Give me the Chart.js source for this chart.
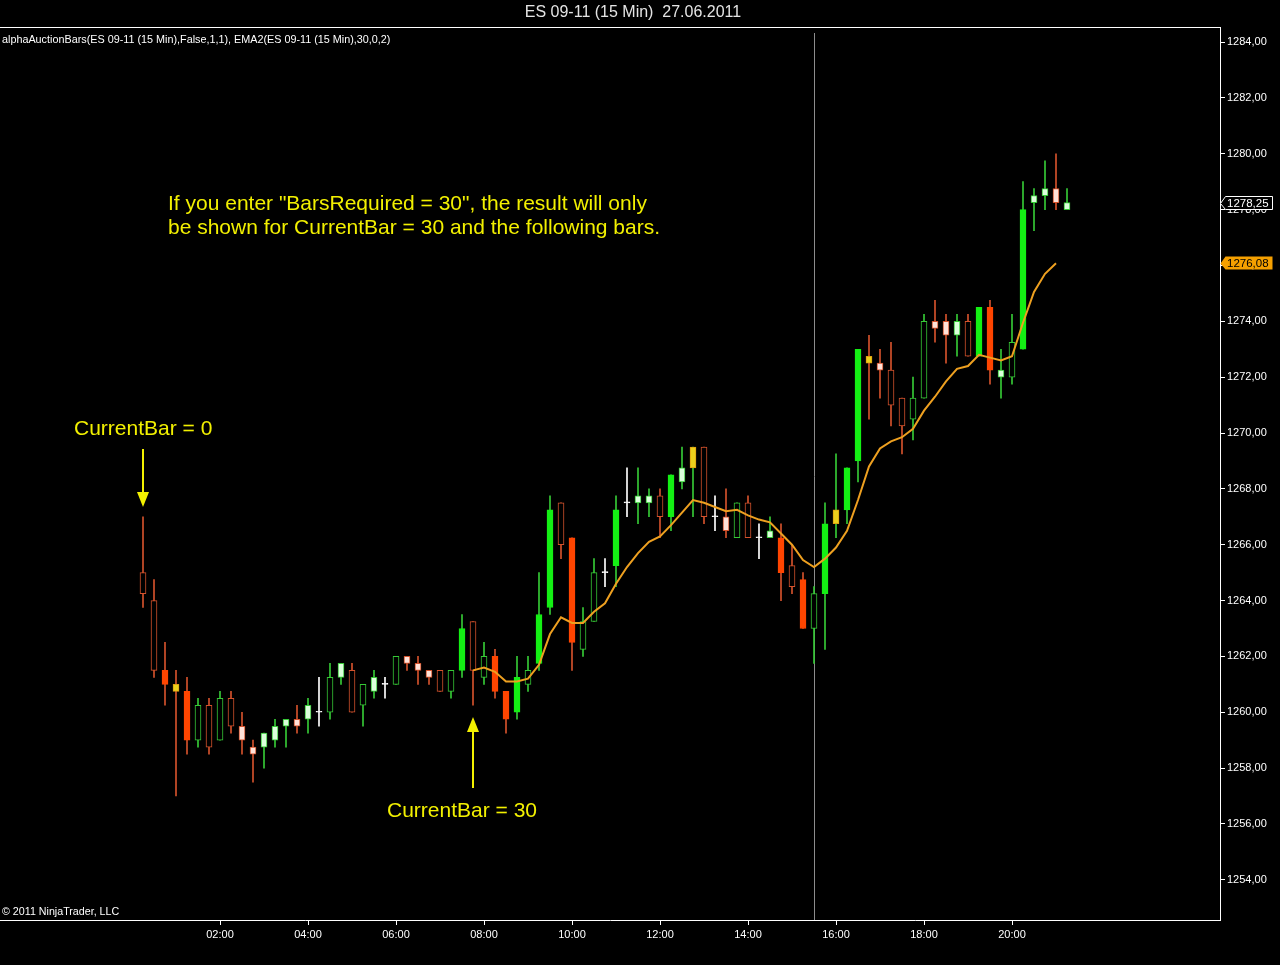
<!DOCTYPE html>
<html>
<head>
<meta charset="utf-8">
<title>ES 09-11 (15 Min)</title>
<script src="https://cdn.jsdelivr.net/npm/chart.js@4.4.1/dist/chart.umd.min.js"></script>
<style>
    html, body { margin: 0; padding: 0; background: #000; }
    #wrap { width: 1280px; height: 965px; }
</style>
</head>
<body>
<div id="wrap"><canvas id="chart" width="1280" height="965"></canvas></div>
<script>
// --- data ---
const chartTitle = 'ES 09-11 (15 Min)  27.06.2011';
const indicatorLabel = 'alphaAuctionBars(ES 09-11 (15 Min),False,1,1), EMA2(ES 09-11 (15 Min),30,0,2)';
const copyright = '\u00A9 2011 NinjaTrader, LLC';
const firstBarTime = '00:15';
const sessionBreak = '15:30';
const tickLabels = ['02:00', '04:00', '06:00', '08:00', '10:00', '12:00', '14:00', '16:00', '18:00', '20:00'];
const priceTicks = [1254, 1256, 1258, 1260, 1262, 1264, 1266, 1268, 1270, 1272, 1274, 1276, 1278, 1280, 1282, 1284];

const opens = [
    1265.0, 1264.0, 1261.5, 1261.0, 1260.75, 1259.0, 1260.25, 1259.0, 1260.5, 1259.5,
    1258.75, 1258.75, 1259.0, 1259.5, 1259.75, 1259.75, 1260.0, 1260.0, 1261.25, 1261.5,
    1260.25, 1260.75, 1261.0, 1261.0, 1262.0, 1261.75, 1261.5, 1261.5, 1260.75, 1261.5,
    1263.25, 1261.25, 1262.0, 1260.75, 1260.0, 1261.0, 1261.75, 1263.75, 1267.5, 1266.25,
    1262.25, 1263.25, 1265.0, 1265.25, 1267.5, 1267.5, 1267.5, 1267.75, 1267.0, 1268.25,
    1268.75, 1269.5, 1267.0, 1267.0, 1266.25, 1267.5, 1266.25, 1266.25, 1266.25, 1265.25,
    1264.75, 1263.0, 1264.25, 1266.75, 1267.25, 1269.0, 1272.75, 1272.5, 1272.25, 1271.25,
    1270.5, 1271.25, 1274.0, 1274.0, 1273.5, 1274.0, 1272.75, 1274.5, 1272.0, 1272.0,
    1273.0, 1278.25, 1278.5, 1278.75, 1278.0
];
const highs = [
    1267.0, 1264.75, 1262.5, 1261.5, 1261.25, 1260.5, 1260.5, 1260.75, 1260.75, 1260.0,
    1259.0, 1259.25, 1259.75, 1259.75, 1260.25, 1260.5, 1261.25, 1261.75, 1261.75, 1261.75,
    1261.0, 1261.5, 1261.25, 1262.0, 1262.0, 1262.0, 1261.5, 1261.5, 1261.5, 1263.5,
    1263.25, 1262.5, 1262.25, 1260.75, 1262.0, 1262.0, 1265.0, 1267.75, 1267.5, 1266.25,
    1263.75, 1265.5, 1265.5, 1267.75, 1268.75, 1268.75, 1268.0, 1268.0, 1268.5, 1269.5,
    1269.5, 1269.5, 1267.75, 1268.0, 1267.5, 1267.75, 1266.75, 1267.0, 1266.75, 1266.0,
    1265.0, 1264.5, 1267.5, 1269.25, 1268.75, 1273.0, 1273.5, 1273.0, 1273.25, 1271.25,
    1272.0, 1274.25, 1274.75, 1274.25, 1274.25, 1274.25, 1274.5, 1274.75, 1273.0, 1274.25,
    1279.0, 1278.75, 1279.75, 1280.0, 1278.75
];
const lows = [
    1263.75, 1261.25, 1260.25, 1257.0, 1258.5, 1258.75, 1258.5, 1259.0, 1259.25, 1258.5,
    1257.5, 1258.0, 1258.75, 1258.75, 1259.25, 1259.25, 1259.5, 1259.75, 1261.0, 1260.0,
    1259.5, 1260.5, 1260.5, 1261.0, 1261.5, 1261.0, 1261.0, 1260.75, 1260.5, 1261.25,
    1260.25, 1261.0, 1260.5, 1259.25, 1259.75, 1260.75, 1261.5, 1263.5, 1265.5, 1261.5,
    1262.0, 1263.25, 1264.5, 1264.5, 1267.0, 1266.75, 1267.0, 1266.25, 1266.5, 1268.0,
    1267.0, 1266.75, 1266.5, 1266.25, 1266.25, 1266.25, 1265.5, 1266.25, 1264.0, 1264.25,
    1263.0, 1261.75, 1262.25, 1266.25, 1266.75, 1268.25, 1270.5, 1271.25, 1270.25, 1269.25,
    1269.75, 1271.25, 1273.25, 1272.5, 1272.75, 1272.75, 1272.75, 1271.75, 1271.25, 1271.75,
    1273.0, 1277.25, 1278.0, 1278.0, 1278.0
];
const closes = [
    1264.25, 1261.5, 1261.0, 1260.75, 1259.0, 1260.25, 1258.75, 1260.5, 1259.5, 1259.0,
    1258.5, 1259.25, 1259.5, 1259.75, 1259.5, 1260.25, 1260.0, 1261.25, 1261.75, 1260.0,
    1261.0, 1261.25, 1261.0, 1262.0, 1261.75, 1261.5, 1261.25, 1260.75, 1261.5, 1263.0,
    1261.5, 1262.0, 1260.75, 1259.75, 1261.25, 1261.5, 1263.5, 1267.25, 1266.0, 1262.5,
    1263.25, 1265.0, 1265.0, 1267.25, 1267.5, 1267.75, 1267.75, 1267.0, 1268.5, 1268.75,
    1269.5, 1267.0, 1267.0, 1266.5, 1267.5, 1266.25, 1266.25, 1266.5, 1265.0, 1264.5,
    1263.0, 1264.25, 1266.75, 1267.25, 1268.75, 1273.0, 1272.5, 1272.25, 1271.0, 1270.25,
    1271.25, 1274.0, 1273.75, 1273.5, 1274.0, 1272.75, 1274.5, 1272.25, 1272.25, 1273.25,
    1278.0, 1278.5, 1278.75, 1278.25, 1278.25
];
// body look per bar: h = hollow, f = filled, p = pale, y = gold, x = doji
const bodyKinds = [
    'h', 'h', 'f', 'y', 'f', 'h', 'h', 'h', 'h', 'p',
    'p', 'p', 'p', 'p', 'p', 'p', 'x', 'h', 'p', 'h',
    'h', 'p', 'x', 'h', 'p', 'p', 'p', 'h', 'h', 'f',
    'h', 'h', 'f', 'f', 'f', 'h', 'f', 'f', 'h', 'f',
    'h', 'h', 'x', 'f', 'x', 'p', 'p', 'h', 'f', 'p',
    'y', 'h', 'x', 'p', 'h', 'h', 'x', 'p', 'f', 'h',
    'f', 'h', 'f', 'y', 'f', 'f', 'y', 'p', 'h', 'h',
    'h', 'h', 'p', 'p', 'p', 'h', 'f', 'f', 'p', 'h',
    'f', 'p', 'p', 'p', 'p'
];

// EMA2(30) starts at CurrentBar = 30
const emaStart = 30;
const emaValues = [
    1261.5, 1261.6, 1261.45, 1261.1, 1261.1, 1261.2, 1261.7, 1262.8, 1263.4, 1263.2,
    1263.2, 1263.6, 1263.9, 1264.6, 1265.2, 1265.7, 1266.1, 1266.3, 1266.7, 1267.15,
    1267.6, 1267.5, 1267.35, 1267.2, 1267.25, 1267.05, 1266.9, 1266.8, 1266.4, 1266.0,
    1265.45, 1265.2, 1265.5, 1265.9, 1266.5, 1267.6, 1268.8, 1269.45, 1269.7, 1269.85,
    1270.15, 1270.8, 1271.3, 1271.85, 1272.3, 1272.4, 1272.8, 1272.7, 1272.6, 1272.75,
    1273.95, 1275.05, 1275.7, 1276.08
];

const noteLines = [
    'If you enter "BarsRequired = 30", the result will only',
    'be shown for CurrentBar = 30 and the following bars.'
];
const noteBar0 = 'CurrentBar = 0';
const noteBar30 = 'CurrentBar = 30';

// --- colours ---
const FONT = '"Liberation Sans", Arial, sans-serif';
const upEdge = '#36c936';
const downEdge = '#d4522c';
const upFill = '#14f014';
const downFill = '#ff4500';
const upPale = '#dcffdc';
const downPale = '#ffe2d8';
const goldFill = '#ecd01c';
const goldEdge = '#e0a010';
const noteColor = '#f2f000';
const emaColor = '#eea020';

function toIndex(t) {
    const [h, m] = t.split(':').map(Number);
    const [h0, m0] = firstBarTime.split(':').map(Number);
    return ((h * 60 + m) - (h0 * 60 + m0)) / 15;
}
function indexToTime(i) {
    const [h0, m0] = firstBarTime.split(':').map(Number);
    const t = h0 * 60 + m0 + i * 15;
    return String(Math.floor(t / 60)).padStart(2, '0') + ':' + String(t % 60).padStart(2, '0');
}
const fmtPrice = v => v.toFixed(2).replace('.', ',');

const idx = opens.map((_, i) => i);
const isUp = i => closes[i] >= opens[i];

const wickColors = idx.map(i => bodyKinds[i] === 'x' ? '#ffffff' : (isUp(i) ? upEdge : downEdge));
const bodyFill = idx.map(i => {
    const k = bodyKinds[i];
    if (k === 'x') return '#ffffff';
    if (k === 'y') return goldFill;
    if (k === 'f') return isUp(i) ? upFill : downFill;
    if (k === 'p') return isUp(i) ? upPale : downPale;
    return '#000000';
});
const bodyEdge = idx.map(i => {
    const k = bodyKinds[i];
    if (k === 'x') return '#ffffff';
    if (k === 'y') return goldEdge;
    if (k === 'f') return isUp(i) ? upFill : downFill;
    return isUp(i) ? upEdge : downEdge;
});

// --- plugins ---
const backdrop = {
    id: 'backdrop',
    beforeDraw(chart) {
        const { ctx, width, height } = chart;
        ctx.save();
        ctx.fillStyle = '#000';
        ctx.fillRect(0, 0, width, height);
        ctx.restore();
    },
    beforeDatasetsDraw(chart) {
        const { ctx, chartArea, scales: { x } } = chart;
        ctx.save();
        // title and the frame line under it
        ctx.fillStyle = '#e4e4e4';
        ctx.font = '16px ' + FONT;
        ctx.textAlign = 'center';
        ctx.textBaseline = 'middle';
        ctx.fillText(chartTitle, 633, 13);
        ctx.strokeStyle = '#ffffff';
        ctx.lineWidth = 1;
        ctx.beginPath();
        ctx.moveTo(0, Math.round(chartArea.top) + 0.5);
        ctx.lineTo(chartArea.right, Math.round(chartArea.top) + 0.5);
        ctx.stroke();
        // session break
        const sx = Math.round(x.getPixelForValue(toIndex(sessionBreak))) + 0.5;
        ctx.strokeStyle = '#8c8c8c';
        ctx.beginPath();
        ctx.moveTo(sx, chartArea.top + 6);
        ctx.lineTo(sx, chartArea.bottom);
        ctx.stroke();
        ctx.restore();
    }
};

function arrow(ctx, x, yFrom, yTo) {
    const dir = yTo > yFrom ? 1 : -1;
    const head = 15;
    ctx.lineWidth = 2;
    ctx.beginPath();
    ctx.moveTo(x, yFrom);
    ctx.lineTo(x, yTo - dir * head);
    ctx.stroke();
    ctx.beginPath();
    ctx.moveTo(x - 6, yTo - dir * head);
    ctx.lineTo(x + 6, yTo - dir * head);
    ctx.lineTo(x, yTo);
    ctx.closePath();
    ctx.fill();
}

function priceTag(ctx, xTip, yc, text, fill, stroke, textColor) {
    const h = 13, w = 47;
    ctx.beginPath();
    ctx.moveTo(xTip + 0.5, yc + 0.5);
    ctx.lineTo(xTip + 5.5, yc - h / 2);
    ctx.lineTo(xTip + 5.5 + w, yc - h / 2);
    ctx.lineTo(xTip + 5.5 + w, yc + h / 2);
    ctx.lineTo(xTip + 5.5, yc + h / 2);
    ctx.closePath();
    ctx.fillStyle = fill;
    ctx.fill();
    if (stroke) {
        ctx.strokeStyle = stroke;
        ctx.lineWidth = 1;
        ctx.stroke();
    }
    ctx.fillStyle = textColor;
    ctx.font = '11.5px ' + FONT;
    ctx.textAlign = 'left';
    ctx.textBaseline = 'middle';
    ctx.fillText(text, xTip + 7, yc + 1);
}

const notes = {
    id: 'notes',
    afterDraw(chart) {
        const { ctx, chartArea, scales: { x, y } } = chart;
        ctx.save();
        ctx.fillStyle = '#ffffff';
        ctx.font = '10.8px ' + FONT;
        ctx.textBaseline = 'middle';
        ctx.fillText(indicatorLabel, 2, chartArea.top + 13);
        ctx.font = '10.7px ' + FONT;
        ctx.fillText(copyright, 2, chartArea.bottom - 8);

        ctx.fillStyle = noteColor;
        ctx.strokeStyle = noteColor;
        ctx.font = '21px ' + FONT;
        ctx.fillText(noteLines[0], 168, 204);
        ctx.fillText(noteLines[1], 168, 228);
        ctx.fillText(noteBar0, 74, 429);
        ctx.fillText(noteBar30, 387, 811);
        arrow(ctx, Math.round(x.getPixelForValue(0)), 449, 507);
        arrow(ctx, Math.round(x.getPixelForValue(emaStart)), 788, 717);

        // last price and last EMA markers on the price axis
        const last = closes.length - 1;
        const lastEma = emaValues[emaValues.length - 1];
        priceTag(ctx, chartArea.right, Math.round(y.getPixelForValue(lastEma)), fmtPrice(lastEma), '#f5a000', null, '#000000');
        priceTag(ctx, chartArea.right, Math.round(y.getPixelForValue(closes[last])), fmtPrice(closes[last]), '#000000', '#ffffff', '#ffffff');
        ctx.restore();
    }
};

// --- chart ---
const tickIdx = tickLabels.map(toIndex);
const pxPerBar = 11;
const firstBarPx = 143;
const xMin = -firstBarPx / pxPerBar;
const xMax = xMin + 1220 / pxPerBar;

new Chart(document.getElementById('chart').getContext('2d'), {
    type: 'bar',
    data: {
        datasets: [
            {
                type: 'line',
                label: 'EMA2',
                data: emaValues.map((v, k) => ({ x: emaStart + k, y: v })),
                borderColor: emaColor,
                borderWidth: 2,
                pointRadius: 0,
                tension: 0,
                order: 1
            },
            {
                label: 'body',
                data: idx.map(i => ({ x: i, y: [opens[i], closes[i]] })),
                backgroundColor: bodyFill,
                borderColor: bodyEdge,
                borderWidth: 1,
                borderSkipped: false,
                barThickness: 6,
                minBarLength: 1,
                grouped: false,
                order: 2
            },
            {
                label: 'wick',
                data: idx.map(i => ({ x: i, y: [lows[i], highs[i]] })),
                backgroundColor: wickColors,
                borderWidth: 0,
                barThickness: 1,
                grouped: false,
                order: 3
            }
        ]
    },
    options: {
        responsive: false,
        animation: false,
        layout: { padding: { top: 27, left: 0, right: 0, bottom: 0 } },
        plugins: {
            legend: { display: false },
            tooltip: { enabled: false },
            title: { display: false }
        },
        scales: {
            x: {
                type: 'linear',
                min: xMin,
                max: xMax,
                offset: false,
                grid: { drawOnChartArea: false, offset: false, color: '#ffffff', tickLength: 5 },
                border: { color: '#ffffff' },
                ticks: {
                    color: '#ffffff',
                    font: { family: FONT, size: 11 },
                    padding: 3,
                    maxRotation: 0,
                    autoSkip: false,
                    callback: v => indexToTime(v)
                },
                afterBuildTicks: s => { s.ticks = tickIdx.map(v => ({ value: v })); },
                afterFit: s => { s.height = 45; }
            },
            y: {
                position: 'right',
                min: 1252.56,
                max: 1284.54,
                grid: { drawOnChartArea: false, color: '#ffffff', tickLength: 5 },
                border: { color: '#ffffff' },
                ticks: {
                    color: '#ffffff',
                    font: { family: FONT, size: 11 },
                    padding: 2,
                    callback: v => fmtPrice(v)
                },
                afterBuildTicks: s => { s.ticks = priceTicks.map(v => ({ value: v })); },
                afterFit: s => { s.width = 60; }
            }
        }
    },
    plugins: [backdrop, notes]
});
</script>
</body>
</html>
